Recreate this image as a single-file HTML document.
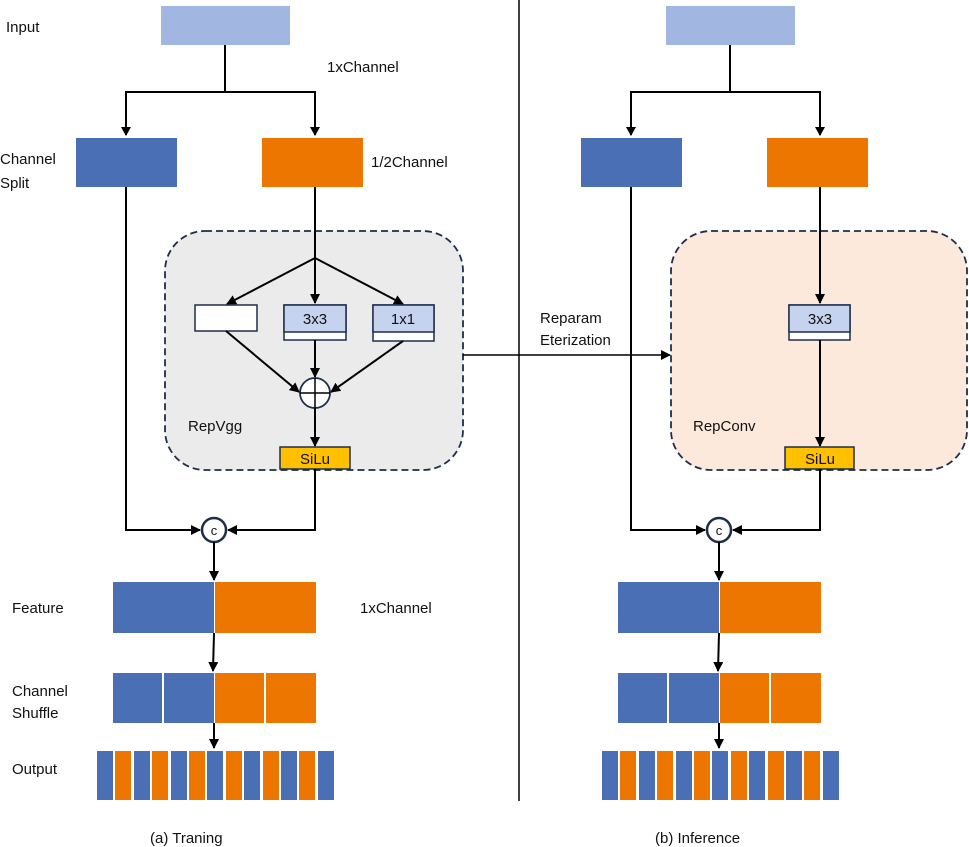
<!DOCTYPE html>
<html><head><meta charset="utf-8"><style>
body{margin:0;background:#fff}
svg{display:block}
text{font-family:"Liberation Sans",sans-serif;font-size:15px;fill:#111}
</style></head><body>
<svg width="969" height="847" viewBox="0 0 969 847" xmlns="http://www.w3.org/2000/svg">
<defs>
<marker id="a" markerWidth="10" markerHeight="10" refX="9" refY="5" orient="auto" markerUnits="userSpaceOnUse">
<path d="M0,0 L10,5 L0,10 z" fill="#000"/></marker>
<g id="bottom">
<!-- concat -->
<circle cx="214" cy="530" r="12" fill="#fff" stroke="#1f2d4a" stroke-width="2.5"/>
<text x="214" y="535" text-anchor="middle" style="font-size:13px">c</text>
<line x1="214" y1="542" x2="214" y2="580" stroke="#000" stroke-width="2" marker-end="url(#a)"/>
<rect x="113" y="582" width="101" height="51" fill="#4a6fb5"/>
<rect x="215" y="582" width="101" height="51" fill="#ed7600"/>
<line x1="214" y1="633" x2="213" y2="671" stroke="#000" stroke-width="2" marker-end="url(#a)"/>
<rect x="113" y="673" width="49" height="50" fill="#4a6fb5"/>
<rect x="164" y="673" width="50" height="50" fill="#4a6fb5"/>
<rect x="215" y="673" width="49" height="50" fill="#ed7600"/>
<rect x="266" y="673" width="50" height="50" fill="#ed7600"/>
<line x1="214" y1="723" x2="214" y2="748" stroke="#000" stroke-width="2" marker-end="url(#a)"/>
<rect x="97" y="751" width="16" height="49" fill="#4a6fb5"/>
<rect x="115" y="751" width="16" height="49" fill="#ed7600"/>
<rect x="134" y="751" width="16" height="49" fill="#4a6fb5"/>
<rect x="152" y="751" width="16" height="49" fill="#ed7600"/>
<rect x="171" y="751" width="16" height="49" fill="#4a6fb5"/>
<rect x="189" y="751" width="16" height="49" fill="#ed7600"/>
<rect x="207" y="751" width="16" height="49" fill="#4a6fb5"/>
<rect x="226" y="751" width="16" height="49" fill="#ed7600"/>
<rect x="244" y="751" width="16" height="49" fill="#4a6fb5"/>
<rect x="263" y="751" width="16" height="49" fill="#ed7600"/>
<rect x="281" y="751" width="16" height="49" fill="#4a6fb5"/>
<rect x="299" y="751" width="16" height="49" fill="#ed7600"/>
<rect x="318" y="751" width="16" height="49" fill="#4a6fb5"/>
</g>
<g id="top">
<rect x="161" y="6" width="129" height="39" fill="#a2b6e2"/>
<polyline points="225,45 225,92" fill="none" stroke="#000" stroke-width="2"/>
<polyline points="126,135 126,92 315,92 315,135" fill="none" stroke="#000" stroke-width="2"/>
<path d="M121,127 L126,136 L131,127z M310,127 L315,136 L320,127z" fill="#000"/>
<rect x="76" y="138" width="101" height="49" fill="#4a6fb5"/>
<rect x="262" y="138" width="101" height="49" fill="#ed7600"/>
</g>
</defs>

<line x1="519" y1="0" x2="519" y2="801" stroke="#000" stroke-width="1.5"/>

<!-- LEFT -->
<use href="#top"/>
<text x="6" y="32">Input</text>
<text x="327" y="72">1xChannel</text>
<text x="0" y="164">Channel</text>
<text x="0" y="188">Split</text>
<text x="371" y="167">1/2Channel</text>
<rect x="165" y="231" width="298" height="239" rx="40" fill="#ebebeb" stroke="#1f2d4a" stroke-width="1.8" stroke-dasharray="7,4"/>
<line x1="315" y1="187" x2="315" y2="303" stroke="#000" stroke-width="2" marker-end="url(#a)"/>
<line x1="315" y1="258" x2="227" y2="304" stroke="#000" stroke-width="2" marker-end="url(#a)"/>
<line x1="315" y1="258" x2="403" y2="304" stroke="#000" stroke-width="2" marker-end="url(#a)"/>
<rect x="195" y="305" width="62" height="26" fill="#fff" stroke="#1f2d4a" stroke-width="1.5"/>
<rect x="284" y="305" width="62" height="35" fill="#fff" stroke="#1f2d4a" stroke-width="1.5"/>
<rect x="284" y="305" width="62" height="27" fill="#c5d3ef" stroke="#1f2d4a" stroke-width="1.5"/>
<text x="315" y="324" text-anchor="middle">3x3</text>
<rect x="373" y="305" width="61" height="36" fill="#fff" stroke="#1f2d4a" stroke-width="1.5"/>
<rect x="373" y="305" width="61" height="27" fill="#c5d3ef" stroke="#1f2d4a" stroke-width="1.5"/>
<text x="403" y="324" text-anchor="middle">1x1</text>
<line x1="226" y1="331" x2="299" y2="392" stroke="#000" stroke-width="2" marker-end="url(#a)"/>
<line x1="315" y1="340" x2="315" y2="377" stroke="#000" stroke-width="2" marker-end="url(#a)"/>
<line x1="403" y1="341" x2="331" y2="392" stroke="#000" stroke-width="2" marker-end="url(#a)"/>
<circle cx="315" cy="393" r="15" fill="#fff" stroke="#1f2d4a" stroke-width="1.8"/>
<line x1="300" y1="393" x2="330" y2="393" stroke="#000" stroke-width="1.5"/>
<line x1="315" y1="378" x2="315" y2="408" stroke="#000" stroke-width="1.5"/>
<line x1="315" y1="408" x2="315" y2="446" stroke="#000" stroke-width="2" marker-end="url(#a)"/>
<rect x="280" y="447" width="70" height="22" fill="#ffc000" stroke="#1f2d4a" stroke-width="1.5"/>
<text x="315" y="464" text-anchor="middle">SiLu</text>
<text x="188" y="431">RepVgg</text>
<polyline points="126,187 126,530 200,530" fill="none" stroke="#000" stroke-width="2" marker-end="url(#a)"/>
<polyline points="315,469 315,530 228,530" fill="none" stroke="#000" stroke-width="2" marker-end="url(#a)"/>
<use href="#bottom"/>
<text x="12" y="613">Feature</text>
<text x="360" y="613">1xChannel</text>
<text x="12" y="696">Channel</text>
<text x="12" y="718">Shuffle</text>
<text x="12" y="774">Output</text>
<text x="150" y="843">(a) Traning</text>

<!-- Reparam -->
<line x1="463" y1="355" x2="670" y2="355" stroke="#000" stroke-width="1.5" marker-end="url(#a)"/>
<text x="540" y="323">Reparam</text>
<text x="540" y="345">Eterization</text>

<!-- RIGHT -->
<use href="#top" x="505"/>
<rect x="671" y="231" width="296" height="239" rx="40" fill="#fde9dc" stroke="#1f2d4a" stroke-width="1.8" stroke-dasharray="7,4"/>
<line x1="820" y1="187" x2="820" y2="303" stroke="#000" stroke-width="2" marker-end="url(#a)"/>
<rect x="789" y="305" width="61" height="35" fill="#fff" stroke="#1f2d4a" stroke-width="1.5"/>
<rect x="789" y="305" width="61" height="27" fill="#c5d3ef" stroke="#1f2d4a" stroke-width="1.5"/>
<text x="820" y="324" text-anchor="middle">3x3</text>
<line x1="820" y1="340" x2="820" y2="446" stroke="#000" stroke-width="2" marker-end="url(#a)"/>
<rect x="785" y="447" width="69" height="22" fill="#ffc000" stroke="#1f2d4a" stroke-width="1.5"/>
<text x="820" y="464" text-anchor="middle">SiLu</text>
<text x="693" y="431">RepConv</text>
<polyline points="631,187 631,530 705,530" fill="none" stroke="#000" stroke-width="2" marker-end="url(#a)"/>
<polyline points="820,469 820,530 733,530" fill="none" stroke="#000" stroke-width="2" marker-end="url(#a)"/>
<use href="#bottom" x="505"/>
<text x="655" y="843">(b) Inference</text>
</svg>
</body></html>
